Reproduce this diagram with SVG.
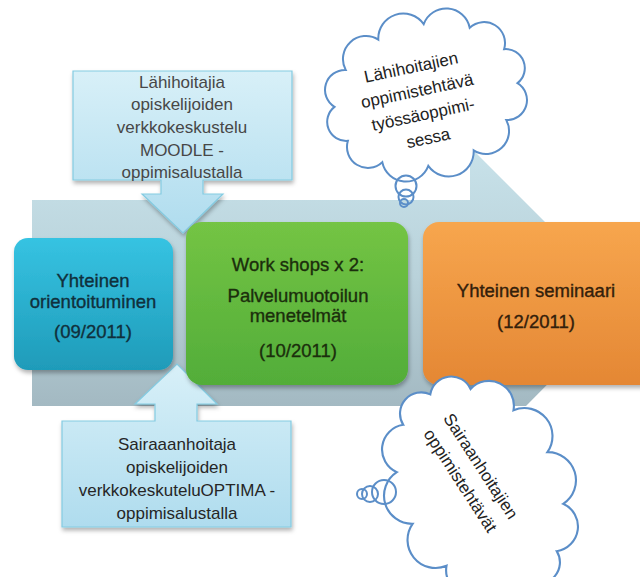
<svg xmlns="http://www.w3.org/2000/svg" width="640" height="577" viewBox="0 0 640 577">
<defs>
  <linearGradient id="gBand" gradientUnits="userSpaceOnUse" x1="0" y1="147" x2="0" y2="406">
    <stop offset="0" stop-color="#c8e2ea"/>
    <stop offset="0.5" stop-color="#b9d2da"/>
    <stop offset="1" stop-color="#a3b9c2"/>
  </linearGradient>
  <linearGradient id="gBlue" x1="0" y1="0" x2="0" y2="1">
    <stop offset="0" stop-color="#36c3e2"/>
    <stop offset="1" stop-color="#1f9bb9"/>
  </linearGradient>
  <linearGradient id="gGreen" x1="0" y1="0" x2="0" y2="1">
    <stop offset="0" stop-color="#74c444"/>
    <stop offset="1" stop-color="#52ad39"/>
  </linearGradient>
  <linearGradient id="gOrange" x1="0" y1="0" x2="0" y2="1">
    <stop offset="0" stop-color="#f7a64e"/>
    <stop offset="1" stop-color="#e48734"/>
  </linearGradient>
  <linearGradient id="gCall" x1="0" y1="0" x2="0" y2="1">
    <stop offset="0" stop-color="#d8f0f8"/>
    <stop offset="1" stop-color="#afdcee"/>
  </linearGradient>
  <filter id="sh" x="-10%" y="-10%" width="125%" height="130%">
    <feDropShadow dx="1" dy="3" stdDeviation="2" flood-color="#000" flood-opacity="0.3"/>
  </filter>
  <style>
    .call { fill: url(#gCall); stroke: #84cbe1; stroke-width: 1.2; filter: url(#sh); }
    .box { filter: url(#sh); }
    .bt { font-family: "Liberation Sans", Arial, sans-serif; font-size: 18.5px; text-anchor: middle; stroke-width: 0.35; }
    .ct { font-family: "Liberation Sans", Arial, sans-serif; font-size: 17px; text-anchor: middle; }
    .cloud { fill: #ffffff; stroke: #5b8ec8; stroke-width: 2; }
    .bub { fill: none; stroke: #5b8ec8; stroke-width: 2; }
  </style>
</defs>

<g id="connectors">
  <polygon id="big-arrow" points="32,200 470,200 470,147 627,304 526,406 32,406" fill="url(#gBand)"/>
</g>

<g id="callout-top">
  <path class="call" d="M73,71 H292 V180 H203 V194 H223 L183,233 L142,194 H161 V180 H73 Z"/>
  <g class="ct" fill="#474747">
    <text x="182" y="87.5">Lähihoitajia</text>
    <text x="182" y="110">opiskelijoiden</text>
    <text x="182" y="133">verkkokeskustelu</text>
    <text x="182" y="156">MOODLE -</text>
    <text x="182" y="178">oppimisalustalla</text>
  </g>
</g>

<g id="callout-bottom">
  <path class="call" d="M62,527 V421 H155 V404 H135 L177,364 L217,404 H197 V421 H291 V527 Z"/>
  <g class="ct" fill="#262626">
    <text x="177" y="449.5">Sairaaanhoitaja</text>
    <text x="177" y="472.5">opiskelijoiden</text>
    <text x="177" y="495.5">verkkokeskuteluOPTIMA -</text>
    <text x="177" y="518.5">oppimisalustalla</text>
  </g>
</g>

<g id="box-orientoituminen">
  <rect class="box" x="14" y="238" width="159" height="132" rx="14" fill="url(#gBlue)"/>
  <g class="bt" fill="#10303c" stroke="#10303c">
    <text x="93" y="287">Yhteinen</text>
    <text x="93" y="308">orientoituminen</text>
    <text x="93" y="338">(09/2011)</text>
  </g>
</g>

<g id="box-workshops">
  <rect class="box" x="186" y="222" width="222" height="163" rx="16" fill="url(#gGreen)"/>
  <g class="bt" fill="#1b2e0c" stroke="#1b2e0c">
    <text x="298" y="271">Work shops x 2:</text>
    <text x="298" y="301.5">Palvelumuotoilun</text>
    <text x="298" y="321.5">menetelmät</text>
    <text x="298" y="356.5">(10/2011)</text>
  </g>
</g>

<g id="box-seminaari">
  <rect class="box" x="423" y="222" width="240" height="163" rx="16" fill="url(#gOrange)"/>
  <g class="bt" fill="#33200b" stroke="#33200b">
    <text x="536" y="297">Yhteinen seminaari</text>
    <text x="536" y="328">(12/2011)</text>
  </g>
</g>

<g id="cloud-top">
  <path class="cloud" d="M517.5,83.1 A20,20 0 0 1 506.3,120.1 A23,23 0 0 1 473.7,150.4 A25,25 0 0 1 428.3,165.9 A24,24 0 0 1 382.3,162.3 A21,21 0 0 1 347.9,140.8 A19,19 0 0 1 334.5,106.9 A20,20 0 0 1 345.7,69.9 A23,23 0 0 1 378.3,39.6 A25,25 0 0 1 423.7,24.1 A24,24 0 0 1 469.7,27.7 A21,21 0 0 1 504.1,49.2 A19,19 0 0 1 517.5,83.1 Z"/>
  <circle class="bub" cx="406" cy="186" r="10.5"/>
  <circle class="bub" cx="406" cy="197" r="7.5"/>
  <circle class="bub" cx="404" cy="203" r="4"/>
  <g class="ct" fill="#222" transform="translate(411,67) rotate(-12)">
    <text x="0" y="6">Lähihoitajien</text>
    <text x="1" y="30.3">oppimistehtävä</text>
    <text x="2" y="54.6">työssäoppimi-</text>
    <text x="2" y="78.9">sessa</text>
  </g>
</g>

<g id="cloud-bottom">
  <path class="cloud" transform="translate(480,488) scale(1.06) translate(-480,-488)" d="M527,576.3 A20,20 0 0 1 488.9,581.4 A23.5,23.5 0 0 1 448.4,561.4 A26.5,26.5 0 0 1 416.4,521.8 A26.5,26.5 0 0 1 401.5,473.1 A23.5,23.5 0 0 1 407.6,428.4 A20,20 0 0 1 433.1,399.7 A20,20 0 0 1 471.1,394.6 A23.5,23.5 0 0 1 511.6,414.6 A26.5,26.5 0 0 1 543.6,454.2 A26.5,26.5 0 0 1 558.5,502.9 A23.5,23.5 0 0 1 552.4,547.6 A20,20 0 0 1 527,576.3 Z"/>
  <circle class="bub" cx="384" cy="492" r="12"/>
  <circle class="bub" cx="370" cy="494" r="8"/>
  <circle class="bub" cx="362" cy="494" r="5"/>
  <g class="ct" fill="#222" transform="translate(481,466) rotate(57)">
    <text x="0" y="6">Sairaanhoitajien</text>
    <text x="1" y="31">oppimistehtävät</text>
  </g>
</g>
</svg>
